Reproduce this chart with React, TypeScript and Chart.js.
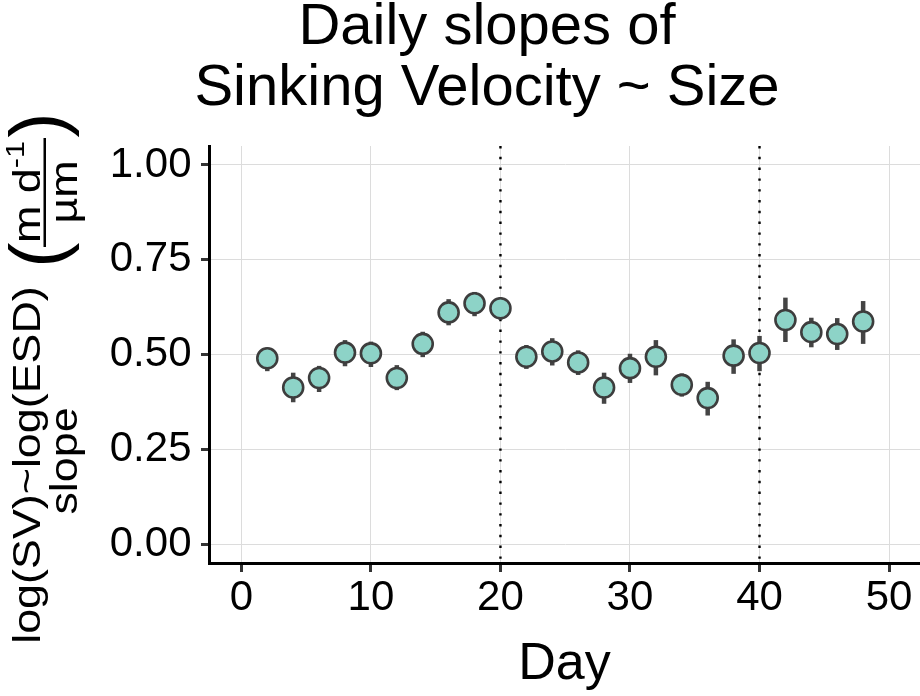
import { useEffect, useRef } from "react"
import { Chart, registerables } from "chart.js"

Chart.register(...registerables)

// sampling day of each daily regression
const days = [2, 4, 6, 8, 10, 12, 14, 16, 18, 20, 22, 24, 26, 28, 30, 32, 34, 36, 38, 40, 42, 44, 46, 48]
// slope of log(SV) ~ log(ESD) and its interval
const slopes = [0.490, 0.413, 0.438, 0.505, 0.503, 0.438, 0.528, 0.611, 0.635, 0.622, 0.494, 0.508, 0.479, 0.413, 0.464, 0.494, 0.420, 0.385, 0.497, 0.504, 0.591, 0.559, 0.554, 0.587]
const lowerCI = [0.456, 0.374, 0.401, 0.469, 0.467, 0.406, 0.493, 0.577, 0.601, 0.592, 0.462, 0.471, 0.446, 0.370, 0.425, 0.445, 0.389, 0.339, 0.449, 0.456, 0.533, 0.519, 0.512, 0.528]
const upperCI = [0.518, 0.452, 0.470, 0.538, 0.534, 0.472, 0.560, 0.646, 0.665, 0.650, 0.525, 0.543, 0.511, 0.452, 0.502, 0.538, 0.450, 0.428, 0.540, 0.549, 0.650, 0.597, 0.596, 0.641]
// dotted phase boundaries
const phaseBreaks = [20, 40]

const xTicks = [0, 10, 20, 30, 40, 50]
const yTicks = [0, 0.25, 0.5, 0.75, 1]
const yTickLabels = ["0.00", "0.25", "0.50", "0.75", "1.00"]

const titleLines = ["Daily slopes of", "Sinking Velocity ~ Size"]
const xTitle = "Day"
const yTitleLines = ["log(SV)~log(ESD)", "slope"]

const FONT = '"Liberation Sans", Arial, Helvetica, sans-serif'

const errorBarPlugin = {
  id: "errorBars",
  beforeDatasetsDraw(chart: Chart) {
    const { ctx, chartArea } = chart
    const x = chart.scales.x
    const y = chart.scales.y
    ctx.save()
    // vertical dotted lines
    ctx.strokeStyle = "#000000"
    ctx.lineWidth = 2.4
    ctx.setLineDash([2.4, 8.4])
    phaseBreaks.forEach((b) => {
      const px = x.getPixelForValue(b)
      ctx.beginPath()
      ctx.moveTo(px, chartArea.top)
      ctx.lineTo(px, chartArea.bottom)
      ctx.stroke()
    })
    ctx.setLineDash([])
    // error bars
    ctx.strokeStyle = "#444444"
    ctx.lineWidth = 4.5
    ctx.lineCap = "butt"
    days.forEach((d, i) => {
      const px = x.getPixelForValue(d)
      ctx.beginPath()
      ctx.moveTo(px, y.getPixelForValue(lowerCI[i]))
      ctx.lineTo(px, y.getPixelForValue(upperCI[i]))
      ctx.stroke()
    })
    ctx.restore()
  },
}

// text stretched along its reading direction
function stretchText(ctx: CanvasRenderingContext2D, text: string, u: number, v: number, sx: number) {
  ctx.save()
  ctx.translate(u, v)
  ctx.scale(sx, 1)
  ctx.fillText(text, 0, 0)
  ctx.restore()
}

const textPlugin = {
  id: "texts",
  afterDraw(chart: Chart) {
    const { ctx, chartArea } = chart
    ctx.save()
    ctx.fillStyle = "#000000"
    ctx.textAlign = "center"
    ctx.textBaseline = "alphabetic"

    // title
    ctx.font = `58px ${FONT}`
    ctx.fillText(titleLines[0], 487, 44)
    ctx.fillText(titleLines[1], 487, 105)

    // x title
    ctx.font = `52px ${FONT}`
    ctx.fillText(xTitle, (chartArea.left + chartArea.right) / 2, 679)

    // y title, rotated: (u, v) -> screen (v, -u)
    ctx.rotate(-Math.PI / 2)
    const sx = 1.18
    ctx.font = `38px ${FONT}`
    stretchText(ctx, yTitleLines[0], -465, 40, sx)
    stretchText(ctx, yTitleLines[1], -461, 77, sx)

    ctx.font = `76px ${FONT}`
    ctx.fillText("(", -255, 63)
    ctx.fillText(")", -125, 63)

    // fraction m d^-1 / µm
    ctx.fillRect(-247, 43.5, 109, 2.5)
    ctx.font = `38px ${FONT}`
    const w1 = ctx.measureText("m d").width * sx
    ctx.font = `26px ${FONT}`
    const w2 = ctx.measureText("-1").width * sx
    const start = -192 - (w1 + w2) / 2
    ctx.textAlign = "left"
    ctx.font = `38px ${FONT}`
    stretchText(ctx, "m d", start, 40, sx)
    ctx.font = `26px ${FONT}`
    stretchText(ctx, "-1", start + w1, 24, sx)
    ctx.textAlign = "center"
    ctx.font = `38px ${FONT}`
    stretchText(ctx, "µm", -192, 77, sx)

    ctx.restore()
  },
}

function SlopeChart() {
  const chartRef = useRef<HTMLCanvasElement>(null)
  const chartInstance = useRef<Chart | null>(null)

  useEffect(() => {
    if (!chartRef.current) return
    if (chartInstance.current) {
      chartInstance.current.destroy()
    }
    const ctx = chartRef.current.getContext("2d")
    if (!ctx) return

    chartInstance.current = new Chart(ctx, {
      type: "scatter",
      data: {
        datasets: [
          {
            label: "slope",
            data: days.map((d, i) => ({ x: d, y: slopes[i] })),
            pointRadius: 10,
            pointHoverRadius: 10,
            pointBackgroundColor: "#8dd3c7",
            pointBorderColor: "#3d3d3d",
            pointBorderWidth: 2.6,
            showLine: false,
          },
        ],
      },
      options: {
        animation: false,
        responsive: false,
        events: [],
        layout: {
          autoPadding: false,
          padding: { top: 146, left: 0, right: 0, bottom: 0 },
        },
        plugins: {
          legend: { display: false },
          tooltip: { enabled: false },
          title: { display: false },
        },
        scales: {
          x: {
            type: "linear",
            min: -2.5,
            max: 52.39,
            afterBuildTicks: (scale) => {
              scale.ticks = xTicks.map((v) => ({ value: v }))
            },
            afterFit: (scale) => {
              scale.height = 133
              scale.paddingLeft = 0
              scale.paddingRight = 0
            },
            ticks: {
              color: "#000000",
              font: { family: FONT, size: 42 },
              padding: 1,
              maxRotation: 0,
            },
            grid: {
              color: "#dcdcdc",
              lineWidth: 1,
              tickColor: "#333333",
              tickWidth: 3,
              tickLength: 9,
            },
            border: { display: true, color: "#000000", width: 3 },
          },
          y: {
            type: "linear",
            min: -0.05,
            max: 1.05,
            afterBuildTicks: (scale) => {
              scale.ticks = yTicks.map((v) => ({ value: v }))
            },
            afterFit: (scale) => {
              scale.width = 209
              scale.paddingTop = 0
              scale.paddingBottom = 0
            },
            ticks: {
              color: "#000000",
              font: { family: FONT, size: 42 },
              padding: 9.5,
              callback: (_v, i) => yTickLabels[i],
            },
            grid: {
              color: "#dcdcdc",
              lineWidth: 1,
              tickColor: "#333333",
              tickWidth: 3,
              tickLength: 8,
            },
            border: { display: true, color: "#000000", width: 3 },
          },
        },
      },
      plugins: [errorBarPlugin, textPlugin],
    })

    return () => {
      if (chartInstance.current) {
        chartInstance.current.destroy()
        chartInstance.current = null
      }
    }
  }, [])

  return <canvas ref={chartRef} width={920} height={696} style={{ display: "block", width: 920, height: 696 }} />
}

export default function App() {
  return (
    <div style={{ position: "absolute", left: 0, top: 0, width: 920, height: 696, background: "#ffffff" }}>
      <SlopeChart />
    </div>
  )
}
